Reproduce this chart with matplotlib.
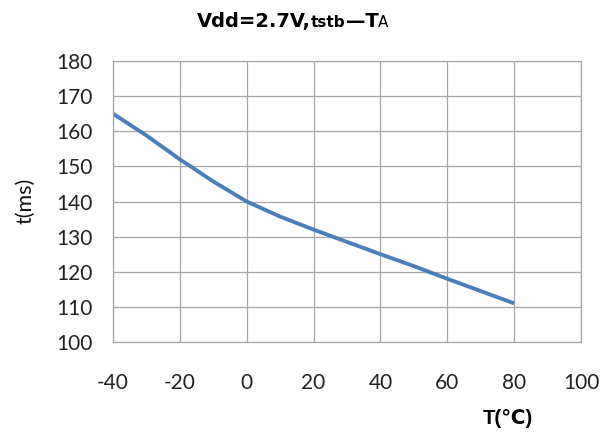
import matplotlib
matplotlib.use("Agg")
import matplotlib.pyplot as plt

temp    =   [-40, -30, -20, -10, 0, 10, 20, 30, 40, 50, 60, 70, 80]
t_ms    =   [165, 158.8, 152, 145.7, 140, 135.7, 132, 128.5, 125, 121.6, 118, 114.5, 111]

plt.rcParams.update({"font.family": "Lato", "axes.unicode_minus": False})
fig     =   plt.figure(figsize = (6.11, 4.32), dpi = 100)
ax      =   fig.add_axes([113/611, 1-342/432, 468/611, 281/432])

ax.plot(temp, t_ms, color = "#4a7ebb", lw = 2.8, solid_capstyle = "butt")

ax.set_xlim(-40, 100)
ax.set_ylim(100, 180)
ax.set_xticks(range(-40, 101, 20))
ax.set_yticks(range(100, 181, 10))
ax.grid(True, color = "#a6a6a6", lw = 0.9)
ax.set_axisbelow(True)
for s in ax.spines.values():
    s.set_color("#a6a6a6")
    s.set_linewidth(0.9)
ax.tick_params(length = 0, labelsize = 15, colors = "#222222")
ax.tick_params(axis = "y", pad = 15)
ax.tick_params(axis = "x", pad = 22)

fig.text(25/611, 1-201/432, "t(ms)", rotation = 90, fontsize = 15.5,
         ha = "center", va = "center", color = "#111111")
fig.text(508/611, 1-418/432, "T(\u2103)", fontsize = 14.5, fontweight = "bold",
         ha = "center", va = "center", family = ["Liberation Sans", "DejaVu Sans"])

# title assembled from pieces
fig.canvas.draw()
r       =   fig.canvas.get_renderer()
parts   =   [("Vdd=2.7V,", 14, "bold"), ("tstb", 11, "bold"), ("\u2014T", 14, "bold"), ("A", 11, "normal")]
x       =   197/611
for txt, fs, fw in parts:
    tt  =   fig.text(x, 1-27/432, txt, fontsize = fs, fontweight = fw, ha = "left",
                     va = "baseline", family = "DejaVu Sans")
    bb  =   tt.get_window_extent(renderer = r)
    x   +=  bb.width/fig.bbox.width

fig.savefig("out.png", dpi = 100)
